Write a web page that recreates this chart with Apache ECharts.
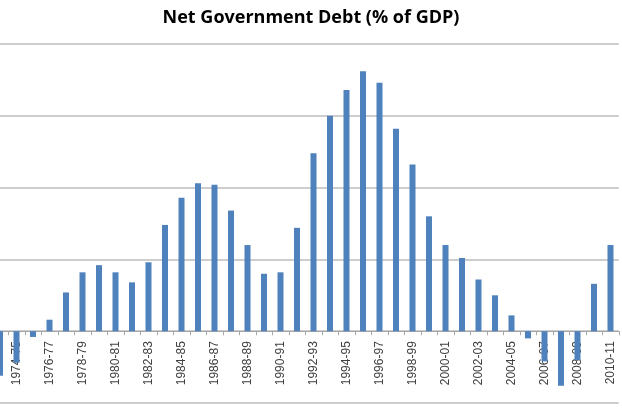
<!DOCTYPE html>
<html>
<head>
<meta charset="utf-8">
<script src="https://cdn.jsdelivr.net/npm/echarts@6/dist/echarts.min.js"></script>
<style>
html,body{margin:0;padding:0;background:#fff;}
#chart{width:622px;height:415px;}
</style>
</head>
<body>
<div id="chart"></div>
<script>
var categories = ['1973-74','1974-75','1975-76','1976-77','1977-78','1978-79','1979-80','1980-81','1981-82','1982-83',
  '1983-84','1984-85','1985-86','1986-87','1987-88','1988-89','1989-90','1990-91','1991-92','1992-93',
  '1993-94','1994-95','1995-96','1996-97','1997-98','1998-99','1999-00','2000-01','2001-02','2002-03',
  '2003-04','2004-05','2005-06','2006-07','2007-08','2008-09','2009-10','2010-11'];
var netDebt = [-3.1,-2.2,-0.4,0.8,2.7,4.1,4.6,4.1,3.4,4.8,
  7.4,9.3,10.3,10.2,8.4,6.0,4.0,4.1,7.2,12.4,
  15.0,16.8,18.1,17.3,14.1,11.6,8.0,6.0,5.1,3.6,
  2.5,1.1,-0.5,-2.1,-3.8,-2.0,3.3,6.0];
var yTicks = [-5, 0, 5, 10, 15, 20];

var gridTop = 44, gridBottom = 12, chartH = 415;
var plotH = chartH - gridTop - gridBottom;
var zeroOffset = -plotH * (0 - yTicks[0]) / (yTicks[yTicks.length-1] - yTicks[0]);

var chart = echarts.init(document.getElementById('chart'), null, {renderer:'canvas'});
chart.setOption({
  animation:false,
  title:{
    text:'Net Government Debt (% of GDP)',
    left:'center', top:4,
    textStyle:{fontFamily:'Open Sans', fontWeight:'bold', fontSize:18, color:'#000'}
  },
  grid:{left:-8.25, right:3.25, top:gridTop, bottom:gridBottom, containLabel:false, outerBoundsMode:'none'},
  xAxis:{
    type:'category',
    data:categories,
    position:'bottom',
    offset:zeroOffset,
    axisLine:{onZero:false, lineStyle:{color:'#a6a6a6', width:1}},
    axisTick:{show:true, interval:0, length:4, lineStyle:{color:'#a6a6a6'}},
    axisLabel:{
      rotate:90, margin:10,
      interval:function(i){return i % 2 === 1;},
      fontFamily:'Liberation Sans', fontSize:12, color:'#404040'
    }
  },
  yAxis:{
    type:'value',
    min:yTicks[0], max:yTicks[yTicks.length-1], interval:5,
    axisLabel:{show:false},
    axisLine:{show:false},
    axisTick:{show:false},
    splitLine:{lineStyle:{color:'#bcbcbc', width:1.5}}
  },
  series:[{
    type:'bar',
    data:netDebt,
    barWidth:6,
    itemStyle:{color:'#4f81bd'}
  }]
});
</script>
</body>
</html>
